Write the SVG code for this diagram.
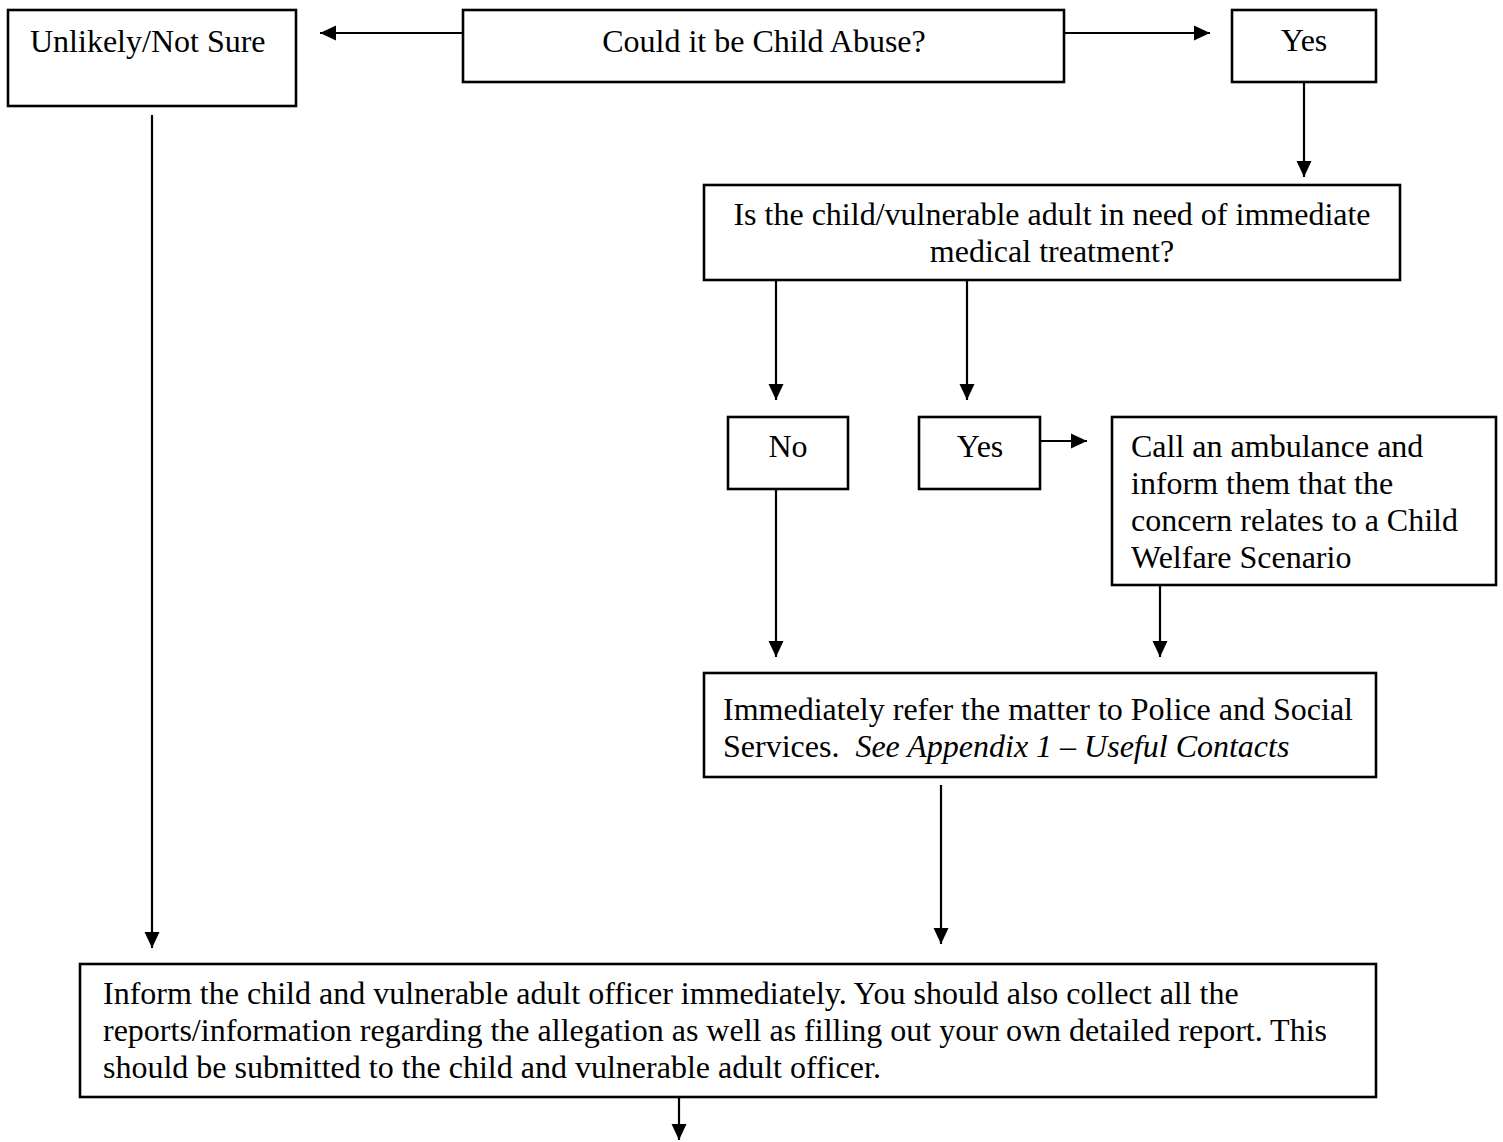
<svg xmlns="http://www.w3.org/2000/svg" width="1503" height="1142" viewBox="0 0 1503 1142">
<style>
.box{fill:#fff;stroke:#000;stroke-width:2.6}
.t{font-family:"Liberation Serif","Times New Roman",serif;font-size:32px;fill:#000}
.c{text-anchor:middle}
.i{font-style:italic}
.ln{stroke:#000;stroke-width:2.2;fill:none;marker-end:url(#ah)}
</style>
<defs>
<marker id="ah" markerUnits="userSpaceOnUse" markerWidth="16" markerHeight="16" refX="16" refY="8" orient="auto">
<path d="M0,0.5 L16,8 L0,15.5 z" fill="#000"/>
</marker>
</defs>
<rect width="1503" height="1142" fill="#fff"/>
<g id="connectors">
<line class="ln" x1="463" y1="33" x2="320" y2="33"/>
<line class="ln" x1="1064" y1="33" x2="1210" y2="33"/>
<line class="ln" x1="1304" y1="82" x2="1304" y2="177"/>
<line class="ln" x1="776" y1="280" x2="776" y2="400"/>
<line class="ln" x1="967" y1="280" x2="967" y2="400"/>
<line class="ln" x1="1040" y1="441" x2="1087" y2="441"/>
<line class="ln" x1="776" y1="489" x2="776" y2="657"/>
<line class="ln" x1="1160" y1="585" x2="1160" y2="657"/>
<line class="ln" x1="941" y1="785" x2="941" y2="944"/>
<line class="ln" x1="152" y1="115" x2="152" y2="948"/>
<line class="ln" x1="679" y1="1097" x2="679" y2="1140"/>
</g>
<g id="unlikely">
<rect class="box" x="8" y="10" width="288" height="96"/>
<text class="t" x="30" y="52">Unlikely/Not Sure</text>
</g>
<g id="could">
<rect class="box" x="463" y="10" width="601" height="72"/>
<text class="t c" x="764" y="52">Could it be Child Abuse?</text>
</g>
<g id="yes1">
<rect class="box" x="1232" y="10" width="144" height="72"/>
<text class="t c" x="1304" y="51">Yes</text>
</g>
<g id="medical">
<rect class="box" x="704" y="185" width="696" height="95"/>
<text class="t c" x="1052" y="225">Is the child/vulnerable adult in need of immediate</text>
<text class="t c" x="1052" y="262">medical treatment?</text>
</g>
<g id="no">
<rect class="box" x="728" y="417" width="120" height="72"/>
<text class="t c" x="788" y="457">No</text>
</g>
<g id="yes2">
<rect class="box" x="919" y="417" width="121" height="72"/>
<text class="t c" x="980" y="457">Yes</text>
</g>
<g id="ambulance">
<rect class="box" x="1112" y="417" width="384" height="168"/>
<text class="t" x="1131" y="457">Call an ambulance and</text>
<text class="t" x="1131" y="494">inform them that the</text>
<text class="t" x="1131" y="531">concern relates to a Child</text>
<text class="t" x="1131" y="568">Welfare Scenario</text>
</g>
<g id="refer">
<rect class="box" x="704" y="673" width="672" height="104"/>
<text class="t" x="723" y="720">Immediately refer the matter to Police and Social</text>
<text class="t" x="723" y="757" xml:space="preserve">Services.  <tspan class="i">See Appendix 1 – Useful Contacts</tspan></text>
</g>
<g id="inform">
<rect class="box" x="80" y="964" width="1296" height="133"/>
<text class="t" x="103" y="1004">Inform the child and vulnerable adult officer immediately. You should also collect all the</text>
<text class="t" x="103" y="1041">reports/information regarding the allegation as well as filling out your own detailed report. This</text>
<text class="t" x="103" y="1078">should be submitted to the child and vulnerable adult officer.</text>
</g>
</svg>
